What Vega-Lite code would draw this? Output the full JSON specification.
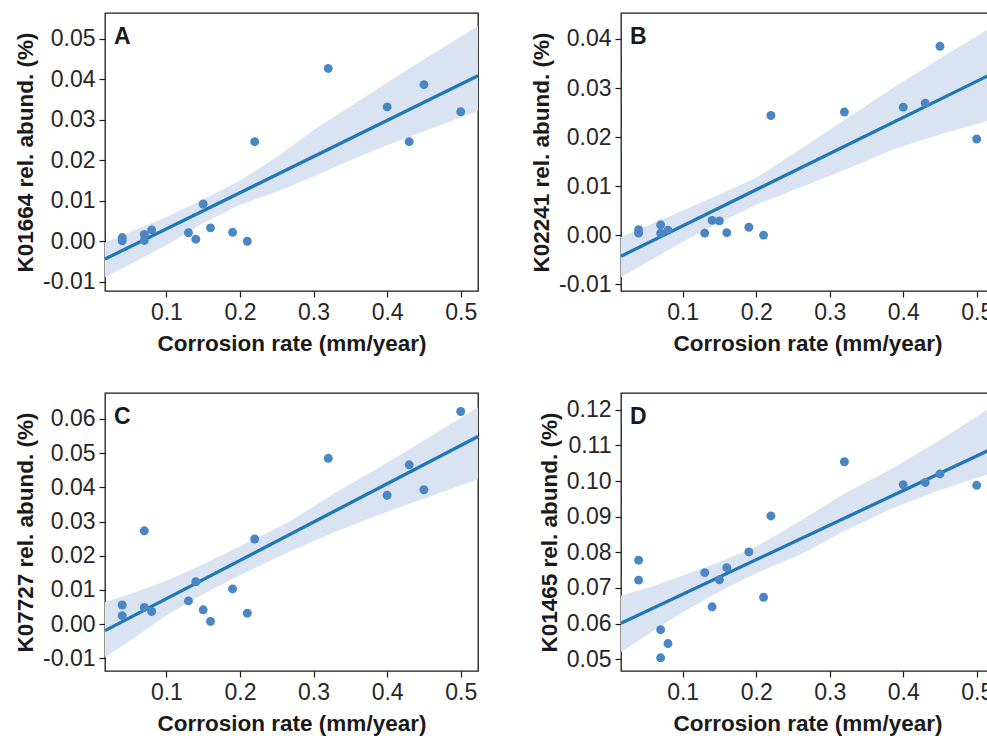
{
  "$schema": "https://vega.github.io/schema/vega-lite/v6.json",
  "padding": {"left": 13, "top": 12, "right": 0, "bottom": 0},
  "background": "white",
  "columns": 2,
  "bounds": "flush",
  "spacing": {"row": 102, "column": 143},
  "datasets": {
    "ptsA": [
      {"x": 0.04, "y": 0.0009}, {"x": 0.04, "y": 0.0001}, {"x": 0.07, "y": 0.0017}, {"x": 0.07, "y": 0.0002},
      {"x": 0.08, "y": 0.0028}, {"x": 0.13, "y": 0.0021}, {"x": 0.14, "y": 0.0005}, {"x": 0.15, "y": 0.0092},
      {"x": 0.16, "y": 0.0033}, {"x": 0.19, "y": 0.0022}, {"x": 0.21, "y": 0.0000}, {"x": 0.22, "y": 0.0246},
      {"x": 0.32, "y": 0.0427}, {"x": 0.40, "y": 0.0332}, {"x": 0.43, "y": 0.0246}, {"x": 0.45, "y": 0.0387},
      {"x": 0.50, "y": 0.0320}
    ],
    "lineA": [{"x": 0.0166, "y": -0.0044}, {"x": 0.5235, "y": 0.0409}],
    "bandA": [
      {"x": 0.0166, "y": -0.0089, "y2": -0.0003}, {"x": 0.06, "y": -0.0048, "y2": 0.0030},
      {"x": 0.1, "y": -0.0010, "y2": 0.0060}, {"x": 0.15, "y": 0.0045, "y2": 0.0103},
      {"x": 0.2, "y": 0.0090, "y2": 0.0150}, {"x": 0.25, "y": 0.0122, "y2": 0.0208},
      {"x": 0.3, "y": 0.0160, "y2": 0.0275}, {"x": 0.35, "y": 0.0200, "y2": 0.0333},
      {"x": 0.4, "y": 0.0237, "y2": 0.0392}, {"x": 0.45, "y": 0.0272, "y2": 0.0450},
      {"x": 0.5235, "y": 0.0322, "y2": 0.0532}
    ],
    "ptsB": [
      {"x": 0.04, "y": 0.0011}, {"x": 0.04, "y": 0.0004}, {"x": 0.07, "y": 0.0021}, {"x": 0.07, "y": 0.0004},
      {"x": 0.08, "y": 0.0010}, {"x": 0.13, "y": 0.0004}, {"x": 0.14, "y": 0.0030}, {"x": 0.15, "y": 0.0029},
      {"x": 0.16, "y": 0.0005}, {"x": 0.19, "y": 0.0016}, {"x": 0.21, "y": 0.0000}, {"x": 0.22, "y": 0.0244},
      {"x": 0.32, "y": 0.0251}, {"x": 0.40, "y": 0.0261}, {"x": 0.43, "y": 0.0269}, {"x": 0.45, "y": 0.0385},
      {"x": 0.50, "y": 0.0196}
    ],
    "lineB": [{"x": 0.0161, "y": -0.0043}, {"x": 0.5235, "y": 0.0331}],
    "bandB": [
      {"x": 0.0161, "y": -0.0086, "y2": -0.0004}, {"x": 0.06, "y": -0.0048, "y2": 0.0024},
      {"x": 0.1, "y": -0.0014, "y2": 0.0050}, {"x": 0.15, "y": 0.0025, "y2": 0.0083},
      {"x": 0.2, "y": 0.0062, "y2": 0.0117}, {"x": 0.26, "y": 0.0097, "y2": 0.0175},
      {"x": 0.32, "y": 0.0133, "y2": 0.0235}, {"x": 0.387, "y": 0.0175, "y2": 0.0301},
      {"x": 0.45, "y": 0.0205, "y2": 0.0360}, {"x": 0.515, "y": 0.0233, "y2": 0.0420},
      {"x": 0.5235, "y": 0.0237, "y2": 0.0430}
    ],
    "ptsC": [
      {"x": 0.04, "y": 0.0056}, {"x": 0.04, "y": 0.0025}, {"x": 0.07, "y": 0.0273}, {"x": 0.07, "y": 0.0049},
      {"x": 0.08, "y": 0.0037}, {"x": 0.13, "y": 0.0068}, {"x": 0.14, "y": 0.0124}, {"x": 0.15, "y": 0.0042},
      {"x": 0.16, "y": 0.0008}, {"x": 0.19, "y": 0.0103}, {"x": 0.21, "y": 0.0032}, {"x": 0.22, "y": 0.0249},
      {"x": 0.32, "y": 0.0485}, {"x": 0.40, "y": 0.0377}, {"x": 0.43, "y": 0.0466}, {"x": 0.45, "y": 0.0393},
      {"x": 0.50, "y": 0.0622}
    ],
    "lineC": [{"x": 0.0166, "y": -0.0019}, {"x": 0.5235, "y": 0.0549}],
    "bandC": [
      {"x": 0.0166, "y": -0.0097, "y2": 0.0064}, {"x": 0.06, "y": -0.0035, "y2": 0.0095},
      {"x": 0.1, "y": 0.0025, "y2": 0.0127}, {"x": 0.15, "y": 0.0088, "y2": 0.0175},
      {"x": 0.2, "y": 0.0143, "y2": 0.0228}, {"x": 0.269, "y": 0.0214, "y2": 0.0302},
      {"x": 0.33, "y": 0.0270, "y2": 0.0385}, {"x": 0.396, "y": 0.0326, "y2": 0.0467},
      {"x": 0.46, "y": 0.0375, "y2": 0.0550}, {"x": 0.5235, "y": 0.0424, "y2": 0.0634}
    ],
    "ptsD": [
      {"x": 0.04, "y": 0.0778}, {"x": 0.04, "y": 0.0722}, {"x": 0.07, "y": 0.0583}, {"x": 0.07, "y": 0.0504},
      {"x": 0.08, "y": 0.0544}, {"x": 0.13, "y": 0.0743}, {"x": 0.14, "y": 0.0647}, {"x": 0.15, "y": 0.0723},
      {"x": 0.16, "y": 0.0757}, {"x": 0.19, "y": 0.0801}, {"x": 0.21, "y": 0.0674}, {"x": 0.22, "y": 0.0902},
      {"x": 0.32, "y": 0.1054}, {"x": 0.40, "y": 0.0990}, {"x": 0.43, "y": 0.0996}, {"x": 0.45, "y": 0.1020},
      {"x": 0.50, "y": 0.0988}
    ],
    "lineD": [{"x": 0.0161, "y": 0.0601}, {"x": 0.5235, "y": 0.1093}],
    "bandD": [
      {"x": 0.0161, "y": 0.0520, "y2": 0.0678}, {"x": 0.06, "y": 0.0580, "y2": 0.0705},
      {"x": 0.1, "y": 0.0632, "y2": 0.0735}, {"x": 0.15, "y": 0.0690, "y2": 0.0772},
      {"x": 0.2, "y": 0.0741, "y2": 0.0816}, {"x": 0.26, "y": 0.0794, "y2": 0.0888},
      {"x": 0.32, "y": 0.0860, "y2": 0.0965}, {"x": 0.387, "y": 0.0925, "y2": 0.1037},
      {"x": 0.45, "y": 0.0975, "y2": 0.1115}, {"x": 0.515, "y": 0.1019, "y2": 0.1201},
      {"x": 0.5235, "y": 0.1025, "y2": 0.1215}
    ]
  },
  "concat": [
    {
      "width": 373, "height": 278,
      "title": {"text": "A", "anchor": "start", "frame": "group", "offset": -54, "dx": 9, "baseline": "alphabetic"},
      "encoding": {
        "x": {"field": "x", "type": "quantitative", "title": "Corrosion rate (mm/year)",
              "scale": {"domain": [0.0166, 0.5235], "nice": false, "zero": false},
              "axis": {"values": [0.1, 0.2, 0.3, 0.4, 0.5], "format": ".1f"}},
        "y": {"field": "y", "type": "quantitative", "title": "K01664 rel. abund. (%)",
              "scale": {"domain": [-0.0123, 0.0564], "nice": false, "zero": false},
              "axis": {"values": [-0.01, 0, 0.01, 0.02, 0.03, 0.04, 0.05], "format": ".2f"}}
      },
      "layer": [
        {"data": {"name": "bandA"}, "mark": {"type": "area", "color": "#d9e3f1", "opacity": 1}, "encoding": {"y2": {"field": "y2"}}},
        {"data": {"name": "lineA"}, "mark": {"type": "line", "color": "#1f77b4", "strokeWidth": 3.3}, "encoding": {}},
        {"data": {"name": "ptsA"}, "mark": {"type": "circle", "size": 80, "color": "#4a86c4", "opacity": 1}, "encoding": {}}
      ]
    },
    {
      "width": 373, "height": 278,
      "title": {"text": "B", "anchor": "start", "frame": "group", "offset": -54, "dx": 9, "baseline": "alphabetic"},
      "encoding": {
        "x": {"field": "x", "type": "quantitative", "title": "Corrosion rate (mm/year)",
              "scale": {"domain": [0.0161, 0.5235], "nice": false, "zero": false},
              "axis": {"values": [0.1, 0.2, 0.3, 0.4, 0.5], "format": ".1f"}},
        "y": {"field": "y", "type": "quantitative", "title": "K02241 rel. abund. (%)",
              "scale": {"domain": [-0.0114, 0.0453], "nice": false, "zero": false},
              "axis": {"values": [-0.01, 0, 0.01, 0.02, 0.03, 0.04], "format": ".2f"}}
      },
      "layer": [
        {"data": {"name": "bandB"}, "mark": {"type": "area", "color": "#d9e3f1", "opacity": 1}, "encoding": {"y2": {"field": "y2"}}},
        {"data": {"name": "lineB"}, "mark": {"type": "line", "color": "#1f77b4", "strokeWidth": 3.3}, "encoding": {}},
        {"data": {"name": "ptsB"}, "mark": {"type": "circle", "size": 80, "color": "#4a86c4", "opacity": 1}, "encoding": {}}
      ]
    },
    {
      "width": 373, "height": 278,
      "title": {"text": "C", "anchor": "start", "frame": "group", "offset": -54, "dx": 9, "baseline": "alphabetic"},
      "encoding": {
        "x": {"field": "x", "type": "quantitative", "title": "Corrosion rate (mm/year)",
              "scale": {"domain": [0.0166, 0.5235], "nice": false, "zero": false},
              "axis": {"values": [0.1, 0.2, 0.3, 0.4, 0.5], "format": ".1f"}},
        "y": {"field": "y", "type": "quantitative", "title": "K07727 rel. abund. (%)",
              "scale": {"domain": [-0.0137, 0.0676], "nice": false, "zero": false},
              "axis": {"values": [-0.01, 0, 0.01, 0.02, 0.03, 0.04, 0.05, 0.06], "format": ".2f"}}
      },
      "layer": [
        {"data": {"name": "bandC"}, "mark": {"type": "area", "color": "#d9e3f1", "opacity": 1}, "encoding": {"y2": {"field": "y2"}}},
        {"data": {"name": "lineC"}, "mark": {"type": "line", "color": "#1f77b4", "strokeWidth": 3.3}, "encoding": {}},
        {"data": {"name": "ptsC"}, "mark": {"type": "circle", "size": 80, "color": "#4a86c4", "opacity": 1}, "encoding": {}}
      ]
    },
    {
      "width": 373, "height": 278,
      "title": {"text": "D", "anchor": "start", "frame": "group", "offset": -54, "dx": 9, "baseline": "alphabetic"},
      "encoding": {
        "x": {"field": "x", "type": "quantitative", "title": "Corrosion rate (mm/year)",
              "scale": {"domain": [0.0161, 0.5235], "nice": false, "zero": false},
              "axis": {"values": [0.1, 0.2, 0.3, 0.4, 0.5], "format": ".1f"}},
        "y": {"field": "y", "type": "quantitative", "title": "K01465 rel. abund. (%)",
              "scale": {"domain": [0.0467, 0.1247], "nice": false, "zero": false},
              "axis": {"values": [0.05, 0.06, 0.07, 0.08, 0.09, 0.1, 0.11, 0.12], "format": ".2f"}}
      },
      "layer": [
        {"data": {"name": "bandD"}, "mark": {"type": "area", "color": "#d9e3f1", "opacity": 1}, "encoding": {"y2": {"field": "y2"}}},
        {"data": {"name": "lineD"}, "mark": {"type": "line", "color": "#1f77b4", "strokeWidth": 3.3}, "encoding": {}},
        {"data": {"name": "ptsD"}, "mark": {"type": "circle", "size": 80, "color": "#4a86c4", "opacity": 1}, "encoding": {}}
      ]
    }
  ],
  "config": {
    "font": "Liberation Sans",
    "locale": {"number": {"decimal": ".", "thousands": ",", "grouping": [3], "currency": ["$", ""], "minus": "-"}},
    "view": {"stroke": "#1a1a1a", "strokeWidth": 1.3},
    "title": {"font": "Liberation Sans", "fontSize": 23, "fontWeight": "bold", "color": "#1a1a1a"},
    "axis": {
      "grid": false,
      "domain": false,
      "labelFont": "Liberation Sans", "labelFontSize": 23, "labelColor": "#262626",
      "titleFont": "Liberation Sans", "titleFontSize": 22.5, "titleFontWeight": "bold", "titleColor": "#1a1a1a",
      "tickColor": "#1a1a1a", "tickSize": 6, "tickWidth": 1.2,
      "labelOverlap": false
    },
    "axisY": {"titlePadding": 5, "labelPadding": 4},
    "axisX": {"titlePadding": 8, "labelPadding": 4}
  }
}
